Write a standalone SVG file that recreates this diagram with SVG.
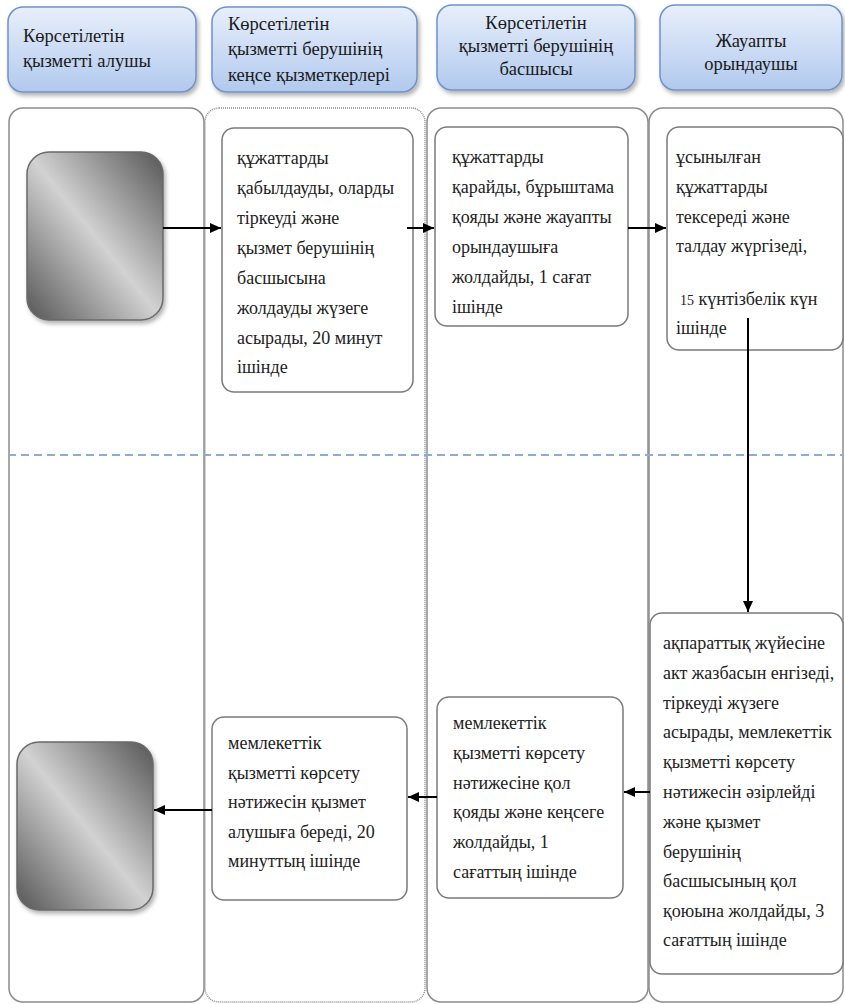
<svg xmlns="http://www.w3.org/2000/svg" width="845" height="1004" viewBox="0 0 845 1004">
<style>
.lane{fill:none;stroke:#8c8c8c;stroke-width:1.5}
.hdr{fill:url(#hg);stroke:#6f93c7;stroke-width:1.5;filter:url(#sh)}
.ht{font-family:"Liberation Serif","DejaVu Serif",serif;font-size:18.5px;fill:#1a1a1a}
.box{fill:#fff;stroke:#7a7a7a;stroke-width:1.5}
.gbox{fill:url(#gg);stroke:#6a6a6a;stroke-width:1.5;filter:url(#sh)}
.bt{font-family:"Liberation Serif","DejaVu Serif",serif;font-size:18px;fill:#222}
.con{stroke:#000;stroke-width:2;fill:none;marker-end:url(#ah)}
</style>
<defs>
<linearGradient id="hg" x1="0" y1="0" x2="0" y2="1">
<stop offset="0" stop-color="#e8effb"/>
<stop offset="1" stop-color="#b1c9ee"/>
</linearGradient>
<linearGradient id="gg" x1="1" y1="0" x2="0" y2="1">
<stop offset="0" stop-color="#555"/>
<stop offset="0.5" stop-color="#d2d2d2"/>
<stop offset="1" stop-color="#555"/>
</linearGradient>
<filter id="sh" x="-10%" y="-10%" width="130%" height="130%">
<feDropShadow dx="2" dy="3" stdDeviation="2" flood-color="#000" flood-opacity="0.3"/>
</filter>
<marker id="ah" markerUnits="userSpaceOnUse" markerWidth="11" markerHeight="10" refX="11" refY="5" orient="auto">
<path d="M0,0 L11,5 L0,10 z" fill="#000"/>
</marker>
</defs>

<g id="lanes">
<rect class="lane" x="9" y="108" width="195" height="894" rx="14"/>
<rect class="lane" x="205" y="108" width="220" height="894" rx="14" stroke-dasharray="1 1"/>
<rect class="lane" x="427" y="108" width="221" height="894" rx="14"/>
<rect class="lane" x="649" y="108" width="194" height="894" rx="14"/>
<line x1="8" y1="455" x2="843" y2="455" stroke="#8eaad8" stroke-width="2" stroke-dasharray="8 5"/>
</g>

<g id="h1">
<rect class="hdr" x="8" y="7" width="188" height="85" rx="15"/>
<text class="ht" x="23" y="42">Көрсетілетін</text>
<text class="ht" x="23" y="67">қызметті алушы</text>
</g>
<g id="h2">
<rect class="hdr" x="212" y="7" width="205" height="85" rx="15"/>
<text class="ht" x="228" y="30">Көрсетілетін</text>
<text class="ht" x="228" y="55">қызметті берушінің</text>
<text class="ht" x="228" y="81">кеңсе қызметкерлері</text>
</g>
<g id="h3">
<rect class="hdr" x="437" y="5" width="198" height="85" rx="15"/>
<text class="ht" x="536" y="29" text-anchor="middle">Көрсетілетін</text>
<text class="ht" x="536" y="52" text-anchor="middle">қызметті берушінің</text>
<text class="ht" x="536" y="75" text-anchor="middle">басшысы</text>
</g>
<g id="h4">
<rect class="hdr" x="660" y="5" width="182" height="85" rx="15"/>
<text class="ht" x="751" y="47" text-anchor="middle">Жауапты</text>
<text class="ht" x="751" y="70" text-anchor="middle">орындаушы</text>
</g>

<g id="start">
<rect class="gbox" x="27" y="152" width="136" height="168" rx="22"/>
</g>
<g id="end">
<rect class="gbox" x="17" y="742" width="136" height="168" rx="22"/>
</g>

<g id="nA">
<rect class="box" x="222" y="128" width="191" height="264" rx="12"/>
<text class="bt" x="237" y="164">құжаттарды</text>
<text class="bt" x="237" y="194">қабылдауды, оларды</text>
<text class="bt" x="237" y="224">тіркеуді және</text>
<text class="bt" x="237" y="254">қызмет берушінің</text>
<text class="bt" x="237" y="284">басшысына</text>
<text class="bt" x="237" y="314">жолдауды жүзеге</text>
<text class="bt" x="237" y="344">асырады, 20 минут</text>
<text class="bt" x="237" y="373">ішінде</text>
</g>
<g id="nB">
<rect class="box" x="435" y="127" width="193" height="199" rx="12"/>
<text class="bt" x="452" y="163">құжаттарды</text>
<text class="bt" x="452" y="193">қарайды, бұрыштама</text>
<text class="bt" x="452" y="223">қояды және жауапты</text>
<text class="bt" x="452" y="253">орындаушыға</text>
<text class="bt" x="452" y="283">жолдайды, 1 сағат</text>
<text class="bt" x="452" y="313">ішінде</text>
</g>
<g id="nC">
<rect class="box" x="667" y="127" width="176" height="223" rx="12"/>
<text class="bt" x="676" y="163">ұсынылған</text>
<text class="bt" x="676" y="193">құжаттарды</text>
<text class="bt" x="676" y="223">тексереді және</text>
<text class="bt" x="676" y="252">талдау жүргізеді,</text>
<text class="bt" x="680" y="305"><tspan font-size="14">15</tspan> күнтізбелік күн</text>
<text class="bt" x="676" y="334">ішінде</text>
</g>
<g id="nF">
<rect class="box" x="650" y="613" width="193" height="361" rx="12"/>
<text class="bt" x="663" y="649">ақпараттық жүйесіне</text>
<text class="bt" x="663" y="679">акт жазбасын енгізеді,</text>
<text class="bt" x="663" y="709">тіркеуді жүзеге</text>
<text class="bt" x="663" y="738">асырады, мемлекеттік</text>
<text class="bt" x="663" y="768">қызметті көрсету</text>
<text class="bt" x="663" y="798">нәтижесін әзірлейді</text>
<text class="bt" x="663" y="828">және қызмет</text>
<text class="bt" x="663" y="858">берушінің</text>
<text class="bt" x="663" y="887">басшысының қол</text>
<text class="bt" x="663" y="917">қоюына жолдайды, 3</text>
<text class="bt" x="663" y="946">сағаттың ішінде</text>
</g>
<g id="nE">
<rect class="box" x="437" y="697" width="186" height="201" rx="12"/>
<text class="bt" x="453" y="729">мемлекеттік</text>
<text class="bt" x="453" y="759">қызметті көрсету</text>
<text class="bt" x="453" y="789">нәтижесіне қол</text>
<text class="bt" x="453" y="818">қояды және кеңсеге</text>
<text class="bt" x="453" y="848">жолдайды, 1</text>
<text class="bt" x="453" y="878">сағаттың ішінде</text>
</g>
<g id="nD">
<rect class="box" x="212" y="717" width="195" height="183" rx="12"/>
<text class="bt" x="228" y="749">мемлекеттік</text>
<text class="bt" x="228" y="779">қызметті көрсету</text>
<text class="bt" x="228" y="808">нәтижесін қызмет</text>
<text class="bt" x="228" y="838">алушыға береді, 20</text>
<text class="bt" x="228" y="867">минуттың ішінде</text>
</g>

<g id="connectors">
<line class="con" x1="163" y1="228" x2="221" y2="228"/>
<line class="con" x1="407" y1="228" x2="434" y2="228"/>
<line class="con" x1="628" y1="228" x2="666" y2="228"/>
<line class="con" x1="748" y1="318" x2="748" y2="612"/>
<line class="con" x1="650" y1="792" x2="624" y2="792"/>
<line class="con" x1="437" y1="797" x2="408" y2="797"/>
<line class="con" x1="212" y1="810" x2="154" y2="810"/>
</g>
</svg>
